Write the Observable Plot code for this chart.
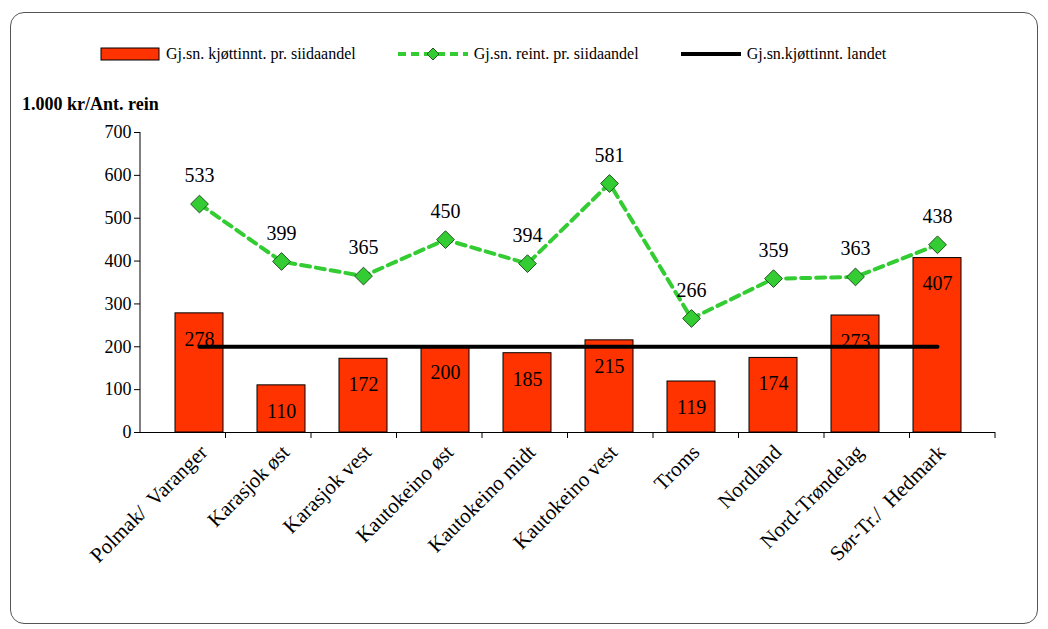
<!DOCTYPE html>
<html><head><meta charset="utf-8">
<script src="https://cdn.jsdelivr.net/npm/d3@7"></script>
<script src="https://cdn.jsdelivr.net/npm/@observablehq/plot@0.6"></script>
<style>
body{margin:0;background:#fff;font-family:"Liberation Serif",serif;}
#wrap{position:relative;width:1048px;height:629px;}
#frame{position:absolute;left:10px;top:12px;width:1028px;height:612px;border:1.5px solid #555;border-radius:14px;box-sizing:border-box;}
#legend{position:absolute;top:45px;left:100px;font-size:16px;display:flex;align-items:center;font-family:"Liberation Serif",serif;}
#ylab{position:absolute;left:22px;top:94px;font-weight:bold;font-size:18px;}
#chart{position:absolute;left:0;top:0;}
</style></head><body>
<div id="wrap"><div id="frame"></div>
<div id="chart"></div>
<div id="ylab">1.000 kr/Ant. rein</div>
<div id="legend">
<svg width="60" height="14"><rect x="1" y="1" width="58" height="12" fill="#ff3300" stroke="#000"/></svg><span style="margin:0 42px 0 6px">Gj.sn. kjøttinnt. pr. siidaandel</span>
<svg width="70" height="14"><line x1="0" y1="7" x2="70" y2="7" stroke="#33cc33" stroke-width="4" stroke-dasharray="8,5"/><path d="M35 1 L41 7 L35 13 L29 7Z" fill="#33cc33" stroke="#225522"/></svg><span style="margin:0 42px 0 6px">Gj.sn. reint. pr. siidaandel</span>
<svg width="60" height="14"><line x1="0" y1="7" x2="60" y2="7" stroke="#000" stroke-width="4"/></svg><span style="margin-left:6px">Gj.sn.kjøttinnt. landet</span>
</div></div>
<script>
const categories=["Polmak/  Varanger","Karasjok øst","Karasjok vest","Kautokeino øst","Kautokeino midt","Kautokeino vest","Troms","Nordland","Nord-Trøndelag","Sør-Tr./  Hedmark"];
const meat=[278,110,172,200,185,215,119,174,273,407];
const reint=[533,399,365,450,394,581,266,359,363,438];
const national=200;
const yTicks=[0,100,200,300,400,500,600,700];
const data=categories.map((c,i)=>({c,m:meat[i],r:reint[i]}));
const natData=[{c:categories[0],v:national},{c:categories[categories.length-1],v:national}];
const F="Liberation Serif";
const p=Plot.plot({
 width:1048,height:629,marginLeft:140,marginRight:53,marginTop:132,marginBottom:197,
 style:{fontFamily:F,fontSize:"18px",background:"transparent"},
 x:{domain:categories,padding:0.42,label:null,tickRotate:-45,tickSize:0},
 y:{domain:[0,700],ticks:yTicks,label:null,tickSize:6},
 marks:[
  Plot.barY(data,{x:"c",y:"m",fill:"#ff3300",stroke:"#000",strokeWidth:1}),
  Plot.line(natData,{x:"c",y:"v",stroke:"#000",strokeWidth:4}),
  Plot.text(data,{x:"c",y:"m",text:d=>String(d.m),dy:26,fontSize:20,fill:"#000",fontFamily:F}),
  Plot.line(data,{x:"c",y:"r",stroke:"#33cc33",strokeWidth:4,strokeDasharray:"9,6"}),
  Plot.dot(data,{x:"c",y:"r",symbol:"diamond2",r:8,fill:"#33cc33",stroke:"#225522",strokeWidth:1}),
  Plot.text(data,{x:"c",y:"r",text:d=>String(d.r),dy:-28,fontSize:20,fill:"#000",fontFamily:F}),
  Plot.ruleY([0],{stroke:"#000"})
 ]
});
const xs=p.querySelectorAll('[aria-label="x-axis tick label"] text');
xs.forEach(t=>{t.setAttribute("font-size","21");t.setAttribute("dy","0.3em");});
document.getElementById("chart").append(p);
const svg=d3.select(p);
svg.append("line").attr("x1",140).attr("x2",140).attr("y1",132).attr("y2",432).attr("stroke","#000");
const xb=d3.scaleBand().domain(categories).range([140,995]);
categories.forEach(c=>svg.append("line").attr("x1",xb(c)+xb.bandwidth()).attr("x2",xb(c)+xb.bandwidth()).attr("y1",432).attr("y2",438).attr("stroke","#000"));
</script></body></html>
